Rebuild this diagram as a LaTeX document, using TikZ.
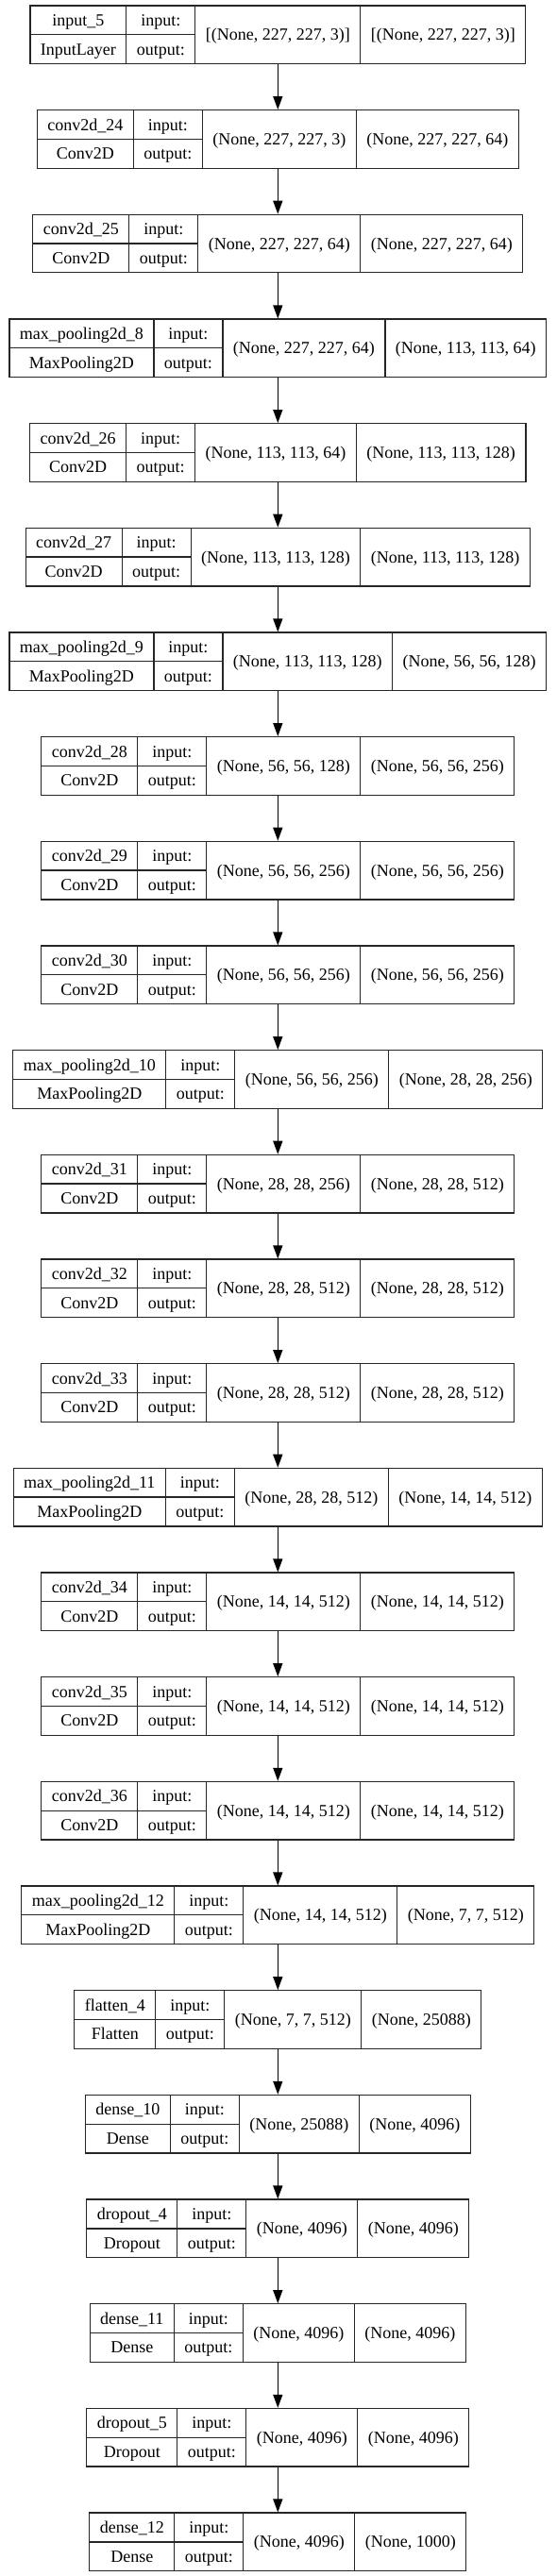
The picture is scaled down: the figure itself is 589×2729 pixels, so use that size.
\documentclass[tikz,border=0pt]{standalone}
\usepackage{fontspec}
\setmainfont{Liberation Serif}
\usetikzlibrary{arrows.meta}
\newlength\wA \newlength\wT
\newcommand\lfont{\fontsize{18pt}{21pt}\selectfont}
\tikzset{
  boxnode/.style={draw=black!85, line width=1.3pt, inner sep=0pt, minimum height=61.5pt, fill=white},
  boxline/.style={draw=black!85, line width=1.3pt},
  cell/.style={font=\lfont, inner sep=0pt, text height=12pt, text depth=0pt, anchor=center},
  arr/.style={draw=black, line width=1.3pt, -{Triangle[length=14pt,width=10pt]}}
}
% measuring pass, outside the picture
\newcommand\premeasure[6]{%
  \settowidth\wA{\lfont #3}\settowidth\wT{\lfont #4}\ifdim\wT>\wA \wA=\wT\fi
  \advance\wA by 22pt
  \expandafter\xdef\csname kwA#1\endcsname{\the\wA}%
  \settowidth\wA{\lfont output:}\advance\wA by 22pt
  \expandafter\xdef\csname kwB#1\endcsname{\the\wA}%
  \settowidth\wA{\lfont #5}\advance\wA by 22pt
  \expandafter\xdef\csname kwC#1\endcsname{\the\wA}%
  \settowidth\wA{\lfont #6}\advance\wA by 22pt
  \expandafter\xdef\csname kwD#1\endcsname{\the\wA}%
}
\newcommand\kerasrow[6]{%
  \pgfmathsetmacro\WA{\csname kwA#1\endcsname}%
  \pgfmathsetmacro\WB{\csname kwB#1\endcsname}%
  \pgfmathsetmacro\WC{\csname kwC#1\endcsname}%
  \pgfmathsetmacro\WD{\csname kwD#1\endcsname}%
  \pgfmathsetmacro\Wtot{\WA+\WB+\WC+\WD}%
  \pgfmathsetmacro\xL{294.3-\Wtot/2}%
  \pgfmathsetmacro\xR{294.3+\Wtot/2}%
  \pgfmathsetmacro\xa{\xL+\WA}%
  \pgfmathsetmacro\xb{\xa+\WB}%
  \pgfmathsetmacro\xc{\xb+\WC}%
  \pgfmathsetmacro\yT{-(6+110.67*#2)}%
  \pgfmathsetmacro\yB{\yT-61.5}%
  \pgfmathsetmacro\yM{\yT-30.75}%
  \pgfmathsetmacro\yU{\yT-15.375}%
  \pgfmathsetmacro\yD{\yT-46.125}%
  \node[boxnode, minimum width=\Wtot pt] (#1) at (294.3,\yM) {};
  \draw[boxline] (\xa,\yT) -- (\xa,\yB) (\xb,\yT) -- (\xb,\yB) (\xc,\yT) -- (\xc,\yB) (\xL,\yM) -- (\xb,\yM);
  \node[cell] (#1n) at ({(\xL+\xa)/2},\yU) {#3};
  \node[cell] (#1c) at ({(\xL+\xa)/2},\yD) {#4};
  \node[cell] (#1i) at ({(\xa+\xb)/2},\yU) {input:};
  \node[cell] (#1o) at ({(\xa+\xb)/2},\yD) {output:};
  \node[cell] (#1s) at ({(\xb+\xc)/2},\yM) {#5};
  \node[cell] (#1t) at ({(\xc+\xR)/2},\yM) {#6};
}
\newcommand\alllayers{%
\L{r0}{0}{input\_5}{InputLayer}{[(None, 227, 227, 3)]}{[(None, 227, 227, 3)]}%
\L{r1}{1}{conv2d\_24}{Conv2D}{(None, 227, 227, 3)}{(None, 227, 227, 64)}%
\L{r2}{2}{conv2d\_25}{Conv2D}{(None, 227, 227, 64)}{(None, 227, 227, 64)}%
\L{r3}{3}{max\_pooling2d\_8}{MaxPooling2D}{(None, 227, 227, 64)}{(None, 113, 113, 64)}%
\L{r4}{4}{conv2d\_26}{Conv2D}{(None, 113, 113, 64)}{(None, 113, 113, 128)}%
\L{r5}{5}{conv2d\_27}{Conv2D}{(None, 113, 113, 128)}{(None, 113, 113, 128)}%
\L{r6}{6}{max\_pooling2d\_9}{MaxPooling2D}{(None, 113, 113, 128)}{(None, 56, 56, 128)}%
\L{r7}{7}{conv2d\_28}{Conv2D}{(None, 56, 56, 128)}{(None, 56, 56, 256)}%
\L{r8}{8}{conv2d\_29}{Conv2D}{(None, 56, 56, 256)}{(None, 56, 56, 256)}%
\L{r9}{9}{conv2d\_30}{Conv2D}{(None, 56, 56, 256)}{(None, 56, 56, 256)}%
\L{r10}{10}{max\_pooling2d\_10}{MaxPooling2D}{(None, 56, 56, 256)}{(None, 28, 28, 256)}%
\L{r11}{11}{conv2d\_31}{Conv2D}{(None, 28, 28, 256)}{(None, 28, 28, 512)}%
\L{r12}{12}{conv2d\_32}{Conv2D}{(None, 28, 28, 512)}{(None, 28, 28, 512)}%
\L{r13}{13}{conv2d\_33}{Conv2D}{(None, 28, 28, 512)}{(None, 28, 28, 512)}%
\L{r14}{14}{max\_pooling2d\_11}{MaxPooling2D}{(None, 28, 28, 512)}{(None, 14, 14, 512)}%
\L{r15}{15}{conv2d\_34}{Conv2D}{(None, 14, 14, 512)}{(None, 14, 14, 512)}%
\L{r16}{16}{conv2d\_35}{Conv2D}{(None, 14, 14, 512)}{(None, 14, 14, 512)}%
\L{r17}{17}{conv2d\_36}{Conv2D}{(None, 14, 14, 512)}{(None, 14, 14, 512)}%
\L{r18}{18}{max\_pooling2d\_12}{MaxPooling2D}{(None, 14, 14, 512)}{(None, 7, 7, 512)}%
\L{r19}{19}{flatten\_4}{Flatten}{(None, 7, 7, 512)}{(None, 25088)}%
\L{r20}{20}{dense\_10}{Dense}{(None, 25088)}{(None, 4096)}%
\L{r21}{21}{dropout\_4}{Dropout}{(None, 4096)}{(None, 4096)}%
\L{r22}{22}{dense\_11}{Dense}{(None, 4096)}{(None, 4096)}%
\L{r23}{23}{dropout\_5}{Dropout}{(None, 4096)}{(None, 4096)}%
\L{r24}{24}{dense\_12}{Dense}{(None, 4096)}{(None, 1000)}%
}
\let\L\premeasure
\begin{document}
\alllayers%
\begin{tikzpicture}[x=1pt,y=1pt]
\fill[white] (0,0) rectangle (589,-2729);
\useasboundingbox (0,0) rectangle (589,-2729);
\let\L\kerasrow
\alllayers
\foreach \a [evaluate=\a as \b using int(\a+1)] in {0,...,23}{
  \draw[arr] (r\a.south) -- (r\b.north);
}
\end{tikzpicture}
\end{document}
